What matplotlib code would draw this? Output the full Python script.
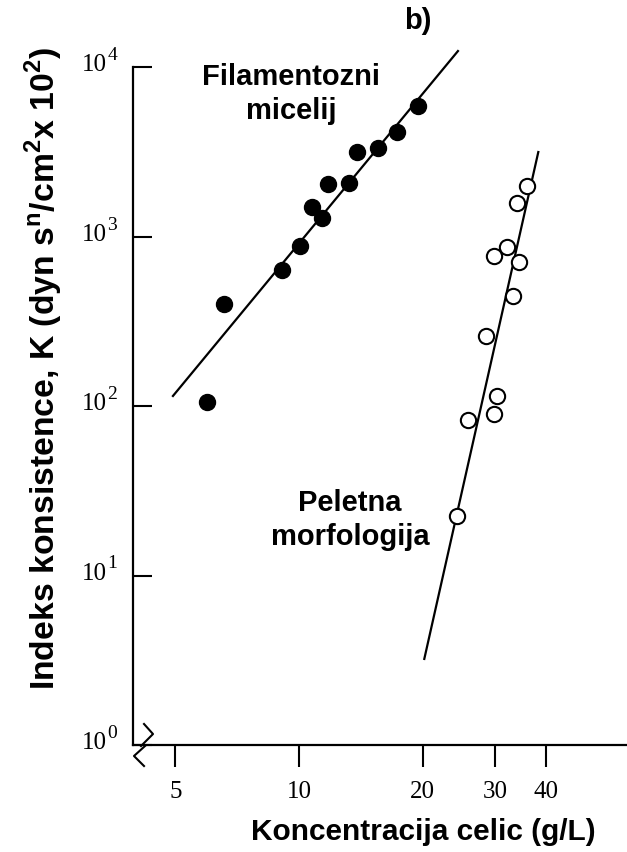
import numpy as np
import matplotlib
matplotlib.use("Agg")
import matplotlib.pyplot as plt
from matplotlib.ticker import FixedLocator, FuncFormatter, NullLocator, NullFormatter

plt.rcParams.update({
    "font.family": "Liberation Sans",
    "mathtext.fontset": "custom",
    "mathtext.rm": "Liberation Sans:bold",
    "mathtext.bf": "Liberation Sans:bold",
})

# ── data ────────────────────────────────────────────
fil_x = [6.56, 5.96, 9.07, 10.06, 10.74, 11.36, 11.75, 13.27, 13.83, 15.61, 17.37, 19.47]
fil_y = [400, 105, 637, 883, 1486, 1280, 2040, 2070, 3165, 3315, 4120, 5865]
fil_fit_x = [4.93, 24.4]
fil_fit_y = [114.6, 12420]

pel_x = [35.9, 34.07, 32.11, 29.9, 34.46, 33.32, 28.58, 30.45, 29.9, 25.79, 24.25]
pel_y = [1978, 1577, 864, 764, 710, 444, 260, 114, 89.7, 82.7, 22.4]
pel_fit_x = [20.2, 38.3]
pel_fit_y = [3.22, 3150]

x_ticks = [5, 10, 20, 30, 40]
y_ticks = [1, 10, 100, 1000, 10000]

W, H = 627, 853
fig = plt.figure(figsize=(W / 100, H / 100), dpi=100)
ax = fig.add_axes([133 / W, 107 / H, 494 / W, 678 / H])
ax.set_xscale("log")
ax.set_yscale("log")
ax.set_xlim(3.94, 63)
ax.set_ylim(1, 1e4)

# fitted lines + points
ax.plot(fil_fit_x, fil_fit_y, "-", color="black", lw=1.6, clip_on=False)
ax.plot(fil_x, fil_y, "o", color="black", ms=11.5, clip_on=False)
ax.plot(pel_fit_x, pel_fit_y, "-", color="black", lw=1.6, clip_on=False)
ax.plot(pel_x, pel_y, "o", mfc="white", mec="black", mew=1.5, ms=11, clip_on=False)

# ── axes styling ────────────────────────────────────
for s in ("top", "right"):
    ax.spines[s].set_visible(False)
for s in ("left", "bottom"):
    ax.spines[s].set_linewidth(1.6)

ax.xaxis.set_major_locator(FixedLocator(x_ticks))
ax.xaxis.set_minor_locator(NullLocator())
ax.xaxis.set_major_formatter(FuncFormatter(lambda v, p: f"{v:g}"))
ax.yaxis.set_major_locator(FixedLocator(y_ticks))
ax.yaxis.set_minor_locator(NullLocator())
ax.yaxis.set_major_formatter(NullFormatter())

ax.tick_params(axis="x", direction="out", length=16, width=1.5, pad=9, labelsize=18)
ax.tick_params(axis="y", direction="in", length=14, width=1.5)
for lab in ax.get_xticklabels():
    lab.set_fontfamily("Liberation Serif")

# y tick labels drawn as "10" + raised exponent (old typeset style)
for v in y_ticks:
    e = int(round(np.log10(v)))
    ax.annotate("10", xy=(0, v), xycoords=("axes fraction", "data"),
                xytext=(-19, 2), textcoords="offset points", ha="right", va="center",
                fontsize=18, family="Liberation Serif", annotation_clip=False)
    ax.annotate(str(e), xy=(0, v), xycoords=("axes fraction", "data"),
                xytext=(-18.5, 9), textcoords="offset points", ha="left", va="center",
                fontsize=14, family="Liberation Serif", annotation_clip=False)

# axis break marks at the corner
brk = dict(color="black", lw=1.5, transform=ax.transAxes, clip_on=False)
ax.plot([0.0223, 0.0405, 0.0162], [0.031, 0.0162, -0.0015], **brk)
ax.plot([0.0243, 0.002, 0.0223], [-0.0015, -0.0162, -0.031], **brk)

# ── labels ──────────────────────────────────────────
fig.text(423 / W, 1 - 832 / H, "Koncentracija celic (g/L)", ha="center", va="center",
         fontsize=21.5, fontweight="bold")
fig.text(44 / W, 1 - 368 / H,
         r"Indeks konsistence, K (dyn s$^{\mathbf{n}}$/cm$^{\mathbf{2}}$x 10$^{\mathbf{2}}$)",
         rotation=90, ha="center", va="center", fontsize=24.3, fontweight="bold")
fig.text(291 / W, 1 - 94 / H, "Filamentozni\nmicelij", ha="center", va="center",
         fontsize=21, fontweight="bold", linespacing=1.25)
fig.text(350 / W, 1 - 520 / H, "Peletna\nmorfologija", ha="center", va="center",
         fontsize=21, fontweight="bold", linespacing=1.25)
fig.text(418 / W, 1 - 21 / H, "b)", ha="center", va="center",
         fontsize=21, fontweight="bold")

fig.savefig("out.png", dpi=100)
